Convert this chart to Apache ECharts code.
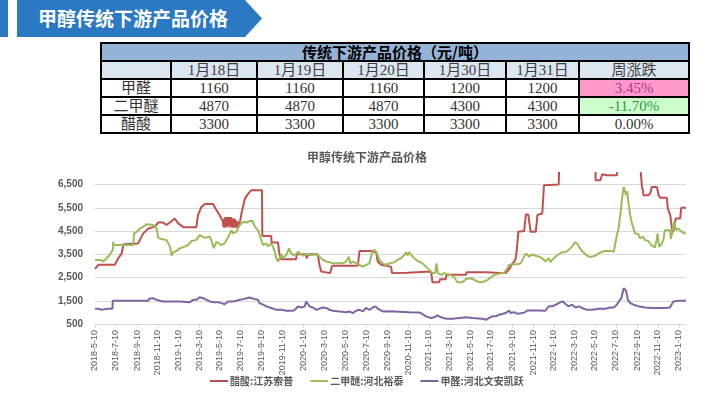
<!DOCTYPE html>
<html>
<head>
<meta charset="utf-8">
<script src="https://cdn.jsdelivr.net/npm/echarts@6/dist/echarts.min.js"></script>
<style>
    html, body { margin: 0; padding: 0; background: #fff; }
    body { width: 714px; height: 397px; position: relative; overflow: hidden; font-family: "Noto Sans CJK SC", sans-serif; }
    .tab-block { position: absolute; left: 0; top: 0; width: 8px; height: 37px; background: #2B79C3; }
    .banner {
        position: absolute; left: 17px; top: 0; width: 245px; height: 37px; background: #2B79C3;
        clip-path: polygon(0 0, 228px 0, 245px 18.5px, 228px 37px, 0 37px);
        color: #fff; font-weight: bold; font-size: 19px; line-height: 36px; box-sizing: border-box; padding-left: 21px;
    }
    table.price {
        position: absolute; left: 100px; top: 42px; width: 588px; table-layout: fixed;
        border-collapse: collapse; font-family: "Liberation Serif", "Noto Sans CJK SC", serif; font-size: 15px; color: #333;
    }
    table.price td { border: 2px solid #000; padding: 0; height: 16px; line-height: 16px; text-align: center; white-space: nowrap; }
    table.price tr.title td { background: #95B3D7; font-family: "Noto Sans CJK SC", sans-serif; font-weight: bold; font-size: 15px; color: #000; }
    table.price tr.head td { background: #DCE6F1; color: #404040; }
    td.up { background: #FF99CC; color: #B0338F; }
    td.down { background: #CCFFCC; color: #2E9A48; }
    #chart { position: absolute; left: 0; top: 140px; width: 714px; height: 257px; }
</style>
</head>
<body>
<div class="tab-block"></div>
<div class="banner">甲醇传统下游产品价格</div>

<table class="price">
    <colgroup>
        <col style="width:70px"><col style="width:86px"><col style="width:86px"><col style="width:81px">
        <col style="width:82px"><col style="width:73px"><col style="width:110px">
    </colgroup>
    <tr class="title"><td colspan="7">传统下游产品价格（元/吨）</td></tr>
    <tr class="head" id="headRow"></tr>
    <tbody id="body"></tbody>
</table>

<div id="chart"></div>

<script>
    // table
    const tableDates = ['1月18日', '1月19日', '1月20日', '1月30日', '1月31日']
    const tableProducts = ['甲醛', '二甲醚', '醋酸']
    const tablePrices = [
        [1160, 1160, 1160, 1200, 1200],
        [4870, 4870, 4870, 4300, 4300],
        [3300, 3300, 3300, 3300, 3300]
    ]
    const weekChange = ['3.45%', '-11.70%', '0.00%']

    // chart series, [date, 元/吨]
    const acetic = [
        ['2018-05-10', 2870], ['2018-05-13', 2950], ['2018-05-20', 3050], ['2018-07-07', 3050], ['2018-07-17', 3330],
        ['2018-07-27', 3540], ['2018-08-01', 3930], ['2018-08-04', 3970], ['2018-09-13', 3970], ['2018-09-18', 4110],
        ['2018-09-28', 4400], ['2018-10-13', 4610], ['2018-11-01', 4690], ['2018-11-11', 4870], ['2018-11-25', 4870],
        ['2018-12-05', 4760], ['2018-12-15', 4870], ['2018-12-29', 5040], ['2019-01-08', 4830], ['2019-01-23', 4670],
        ['2019-03-02', 4670], ['2019-03-07', 5190], ['2019-03-17', 5540], ['2019-03-27', 5670], ['2019-04-20', 5670],
        ['2019-04-30', 5400], ['2019-05-09', 5190], ['2019-05-19', 4900], ['2019-05-20', 4700], ['2019-05-21', 5000],
        ['2019-05-22', 4650], ['2019-05-23', 5050], ['2019-05-24', 4700], ['2019-05-26', 5100], ['2019-05-27', 4750],
        ['2019-05-28', 5050], ['2019-05-29', 4650], ['2019-05-30', 5100], ['2019-06-01', 4700], ['2019-06-02', 5050],
        ['2019-06-03', 4700], ['2019-06-04', 5100], ['2019-06-05', 4750], ['2019-06-07', 5100], ['2019-06-08', 4700],
        ['2019-06-09', 5050], ['2019-06-10', 4650], ['2019-06-11', 5100], ['2019-06-13', 4700], ['2019-06-14', 5050],
        ['2019-06-15', 4700], ['2019-06-16', 5000], ['2019-06-17', 4650], ['2019-06-19', 5050], ['2019-06-20', 4700],
        ['2019-06-21', 5000], ['2019-06-22', 4650], ['2019-06-23', 5000], ['2019-06-25', 4700], ['2019-06-26', 4950],
        ['2019-06-27', 4650], ['2019-06-28', 4950], ['2019-06-30', 4650], ['2019-07-01', 4900], ['2019-07-02', 4650],
        ['2019-07-04', 4620], ['2019-07-09', 5000], ['2019-07-12', 5260], ['2019-07-22', 5900],
        ['2019-08-01', 6110], ['2019-08-10', 6260], ['2019-09-10', 6260], ['2019-09-11', 4290], ['2019-10-07', 4290],
        ['2019-10-08', 4010], ['2019-10-27', 4010], ['2019-10-30', 3590], ['2019-11-05', 3290], ['2019-12-19', 3290],
        ['2019-12-20', 3500], ['2020-01-17', 3500], ['2020-01-18', 3330], ['2020-01-23', 3330], ['2020-01-24', 3500],
        ['2020-02-20', 3500], ['2020-02-25', 3040], ['2020-03-01', 2760], ['2020-03-06', 2690], ['2020-03-27', 2690],
        ['2020-04-02', 3010], ['2020-06-16', 3010], ['2020-06-21', 3640], ['2020-07-25', 3640], ['2020-07-30', 3580],
        ['2020-08-09', 3580], ['2020-08-13', 3200], ['2020-08-23', 3050], ['2020-09-21', 2970], ['2020-09-24', 2690],
        ['2020-11-08', 2710], ['2020-11-10', 2760], ['2021-01-16', 2760], ['2021-01-20', 2300], ['2021-02-09', 2300],
        ['2021-02-11', 2430], ['2021-02-28', 2430], ['2021-03-02', 2620], ['2021-04-28', 2620], ['2021-04-30', 2730],
        ['2021-06-25', 2730], ['2021-06-27', 2690], ['2021-08-22', 2690], ['2021-08-27', 2760], ['2021-09-03', 2900],
        ['2021-09-11', 3100], ['2021-09-16', 3190], ['2021-09-20', 3300], ['2021-09-23', 3610], ['2021-09-28', 4470],
        ['2021-10-15', 4500], ['2021-10-20', 5210], ['2021-10-27', 5210], ['2021-11-03', 4470], ['2021-11-18', 4470],
        ['2021-11-23', 5190], ['2021-12-07', 5260], ['2021-12-12', 6470], ['2022-01-24', 6500], ['2022-01-26', 7500],
        ['2022-05-11', 7500], ['2022-05-12', 6690], ['2022-05-26', 6690], ['2022-05-31', 6950], ['2022-06-14', 6900],
        ['2022-07-13', 6900], ['2022-07-18', 7500], ['2022-09-18', 7500], ['2022-09-24', 6470], ['2022-09-29', 6040],
        ['2022-10-14', 6040], ['2022-10-19', 6150], ['2022-10-23', 6400], ['2022-11-07', 6400], ['2022-11-12', 6040],
        ['2022-11-17', 5930], ['2022-12-06', 5930], ['2022-12-09', 5470], ['2022-12-16', 5190], ['2022-12-21', 4600],
        ['2022-12-24', 4450], ['2022-12-29', 4800], ['2023-01-01', 5040], ['2023-01-14', 5040], ['2023-01-17', 5500],
        ['2023-01-31', 5500]
    ]
    const dme = [
        ['2018-05-10', 3260], ['2018-05-15', 3190], ['2018-05-25', 3260], ['2018-05-29', 3300], ['2018-06-03', 3190],
        ['2018-06-13', 3330], ['2018-06-23', 3500], ['2018-07-01', 3690], ['2018-07-02', 4040], ['2018-07-04', 3900],
        ['2018-08-30', 3900], ['2018-09-01', 4400], ['2018-09-09', 4470], ['2018-09-18', 4610], ['2018-09-28', 4690],
        ['2018-10-08', 4790], ['2018-10-13', 4830], ['2018-10-27', 4760], ['2018-11-06', 4610], ['2018-11-11', 4210],
        ['2018-11-20', 4160], ['2018-12-05', 4110], ['2018-12-15', 3830], ['2018-12-20', 3440], ['2018-12-24', 3590],
        ['2019-01-03', 3640], ['2019-01-13', 3760], ['2019-01-27', 3830], ['2019-02-06', 3900], ['2019-02-16', 4070],
        ['2019-03-02', 4110], ['2019-03-12', 4330], ['2019-03-17', 4260], ['2019-03-27', 4210], ['2019-04-10', 4260],
        ['2019-04-15', 4110], ['2019-04-22', 3760], ['2019-04-30', 4040], ['2019-05-05', 4110], ['2019-05-14', 3900],
        ['2019-05-24', 3970], ['2019-05-29', 3900], ['2019-06-06', 4330], ['2019-06-13', 4540], ['2019-06-17', 4400],
        ['2019-06-27', 4470], ['2019-07-07', 4760], ['2019-07-12', 4830], ['2019-07-17', 4900], ['2019-07-26', 4870],
        ['2019-08-05', 4930], ['2019-08-13', 4940], ['2019-08-20', 4690], ['2019-08-29', 4540], ['2019-09-03', 4330],
        ['2019-09-08', 4110], ['2019-09-13', 3900], ['2019-09-18', 3830], ['2019-09-23', 3970], ['2019-09-28', 3830],
        ['2019-10-07', 3970], ['2019-10-12', 3830], ['2019-10-17', 3610], ['2019-10-22', 3330], ['2019-10-27', 3190],
        ['2019-11-01', 3360], ['2019-11-06', 3500], ['2019-11-10', 3330], ['2019-11-20', 3470], ['2019-11-28', 3760],
        ['2019-12-02', 3590], ['2019-12-10', 3470], ['2019-12-19', 3500], ['2019-12-24', 3610], ['2019-12-29', 3540],
        ['2020-01-08', 3440], ['2020-01-17', 3500], ['2020-02-01', 3470], ['2020-02-16', 3500], ['2020-02-25', 3400],
        ['2020-03-06', 3260], ['2020-03-16', 3190], ['2020-03-25', 3160], ['2020-04-04', 3110], ['2020-05-03', 3110],
        ['2020-05-13', 3190], ['2020-05-21', 3400], ['2020-05-25', 3110], ['2020-06-01', 3190], ['2020-06-11', 3110],
        ['2020-06-21', 3040], ['2020-07-01', 2970], ['2020-07-10', 3040], ['2020-07-20', 3110], ['2020-07-28', 3610],
        ['2020-08-04', 3690], ['2020-08-09', 3590], ['2020-08-13', 3470], ['2020-08-18', 3260], ['2020-08-28', 3110],
        ['2020-09-07', 3040], ['2020-09-16', 3110], ['2020-09-21', 3190], ['2020-10-01', 3160], ['2020-10-10', 3260],
        ['2020-10-20', 3330], ['2020-10-25', 3260], ['2020-10-30', 3470], ['2020-11-04', 3590], ['2020-11-08', 3450],
        ['2020-11-13', 3590], ['2020-11-18', 3540], ['2020-11-23', 3400], ['2020-12-03', 3260], ['2020-12-12', 3190],
        ['2020-12-22', 3110], ['2021-01-01', 2970], ['2021-01-11', 2830], ['2021-01-20', 2690], ['2021-01-28', 2690],
        ['2021-02-01', 3110], ['2021-02-05', 2690], ['2021-02-14', 2610], ['2021-02-23', 2690], ['2021-03-05', 2640],
        ['2021-03-15', 2610], ['2021-03-25', 2500], ['2021-04-03', 2300], ['2021-04-18', 2300], ['2021-04-28', 2440],
        ['2021-05-12', 2470], ['2021-05-22', 2400], ['2021-06-01', 2330], ['2021-06-10', 2300], ['2021-06-20', 2330],
        ['2021-06-30', 2400], ['2021-07-09', 2500], ['2021-07-19', 2610], ['2021-07-29', 2640], ['2021-08-08', 2690],
        ['2021-08-17', 2690], ['2021-08-27', 2900], ['2021-09-01', 3040], ['2021-09-11', 3070], ['2021-09-25', 3070],
        ['2021-10-05', 3110], ['2021-10-10', 3260], ['2021-10-20', 3540], ['2021-10-24', 3540], ['2021-10-29', 3400],
        ['2021-11-08', 3500], ['2021-11-18', 3440], ['2021-11-27', 3400], ['2021-12-07', 3330], ['2021-12-16', 3190],
        ['2021-12-21', 3110], ['2021-12-26', 3330], ['2021-12-31', 3160], ['2022-01-05', 3260], ['2022-01-15', 3400],
        ['2022-01-24', 3500], ['2022-02-03', 3590], ['2022-02-13', 3590], ['2022-02-22', 3690], ['2022-03-04', 3830],
        ['2022-03-12', 4010], ['2022-03-19', 3970], ['2022-03-24', 3830], ['2022-04-02', 3640], ['2022-04-12', 3500],
        ['2022-04-22', 3400], ['2022-05-02', 3400], ['2022-05-11', 3440], ['2022-05-21', 3540], ['2022-05-31', 3610],
        ['2022-06-09', 3640], ['2022-06-24', 3640], ['2022-07-04', 3610], ['2022-07-09', 3690], ['2022-07-13', 4330],
        ['2022-07-18', 4610], ['2022-07-23', 5190], ['2022-07-28', 5900], ['2022-08-02', 6400], ['2022-08-05', 6330],
        ['2022-08-09', 6040], ['2022-08-12', 6210], ['2022-08-16', 5690], ['2022-08-21', 5190], ['2022-08-26', 4830],
        ['2022-08-31', 4760], ['2022-09-04', 4400], ['2022-09-09', 4330], ['2022-09-14', 4360], ['2022-09-18', 4190],
        ['2022-09-28', 4260], ['2022-10-03', 4110], ['2022-10-13', 4070], ['2022-10-22', 3900], ['2022-10-27', 3930],
        ['2022-11-01', 3790], ['2022-11-06', 4110], ['2022-11-09', 4400], ['2022-11-13', 3830], ['2022-11-19', 3900],
        ['2022-11-26', 4110], ['2022-11-30', 4540], ['2022-12-15', 4540], ['2022-12-18', 4160], ['2022-12-22', 4470],
        ['2022-12-28', 4930], ['2023-01-01', 4540], ['2023-01-08', 4610], ['2023-01-13', 4690], ['2023-01-18', 4470],
        ['2023-01-23', 4540], ['2023-01-28', 4400], ['2023-01-31', 4400]
    ]
    const formaldehyde = [
        ['2018-05-10', 1160], ['2018-05-15', 1110], ['2018-05-20', 1160], ['2018-05-29', 1110], ['2018-06-08', 1140],
        ['2018-06-18', 1160], ['2018-06-30', 1160], ['2018-07-01', 1500], ['2018-10-13', 1500], ['2018-10-15', 1590],
        ['2018-10-27', 1610], ['2018-11-06', 1540], ['2018-11-16', 1500], ['2018-11-25', 1470], ['2019-01-13', 1470],
        ['2019-02-11', 1440], ['2019-02-16', 1470], ['2019-02-21', 1540], ['2019-03-02', 1540], ['2019-03-12', 1650],
        ['2019-03-22', 1610], ['2019-04-01', 1540], ['2019-04-10', 1470], ['2019-04-22', 1440], ['2019-05-05', 1440],
        ['2019-05-14', 1400], ['2019-05-24', 1350], ['2019-06-03', 1470], ['2019-06-17', 1470], ['2019-06-27', 1500],
        ['2019-07-07', 1540], ['2019-07-17', 1570], ['2019-08-05', 1640], ['2019-08-20', 1570], ['2019-08-29', 1540],
        ['2019-09-03', 1400], ['2019-09-13', 1330], ['2019-09-23', 1260], ['2019-10-07', 1190], ['2019-10-22', 1110],
        ['2019-11-06', 1110], ['2019-11-20', 1070], ['2019-12-10', 1070], ['2019-12-19', 1160], ['2019-12-24', 1260],
        ['2020-01-03', 1210], ['2020-01-13', 1260], ['2020-01-17', 1470], ['2020-01-22', 1360], ['2020-01-27', 1260],
        ['2020-02-06', 1210], ['2020-02-16', 1110], ['2020-02-25', 1160], ['2020-03-06', 1210], ['2020-03-16', 1190],
        ['2020-03-25', 1110], ['2020-04-04', 1070], ['2020-04-24', 1040], ['2020-05-13', 1010], ['2020-05-23', 1040],
        ['2020-06-01', 970], ['2020-06-11', 1070], ['2020-06-21', 1110], ['2020-07-01', 1040], ['2020-07-10', 1190],
        ['2020-07-20', 1110], ['2020-07-30', 1210], ['2020-08-07', 1260], ['2020-08-13', 1160], ['2020-08-28', 1040],
        ['2020-09-16', 1050], ['2020-11-13', 1010], ['2020-12-12', 1000], ['2020-12-22', 930], ['2021-01-01', 830],
        ['2021-01-16', 760], ['2021-01-25', 790], ['2021-02-04', 870], ['2021-02-14', 790], ['2021-02-28', 730],
        ['2021-03-20', 730], ['2021-04-08', 760], ['2021-04-28', 790], ['2021-05-17', 760], ['2021-06-15', 730],
        ['2021-06-25', 680], ['2021-07-05', 760], ['2021-07-14', 830], ['2021-07-24', 830], ['2021-08-03', 900],
        ['2021-08-12', 930], ['2021-08-22', 970], ['2021-09-01', 1080], ['2021-09-06', 970], ['2021-09-16', 1010],
        ['2021-09-25', 940], ['2021-10-05', 960], ['2021-10-15', 990], ['2021-10-24', 1080], ['2021-11-27', 1080],
        ['2021-12-16', 1070], ['2021-12-26', 1260], ['2022-01-05', 1260], ['2022-01-10', 1330], ['2022-01-19', 1360],
        ['2022-01-29', 1440], ['2022-02-05', 1470], ['2022-02-13', 1360], ['2022-02-22', 1260], ['2022-03-04', 1330],
        ['2022-03-14', 1210], ['2022-03-24', 1260], ['2022-04-02', 1190], ['2022-04-17', 1110], ['2022-05-02', 1110],
        ['2022-05-21', 1160], ['2022-06-09', 1160], ['2022-06-24', 1210], ['2022-07-04', 1210], ['2022-07-13', 1330],
        ['2022-07-20', 1500], ['2022-07-26', 1610], ['2022-08-02', 2040], ['2022-08-09', 1930], ['2022-08-14', 1540],
        ['2022-08-21', 1400], ['2022-08-31', 1330], ['2022-09-14', 1260], ['2022-10-03', 1210], ['2022-10-22', 1190],
        ['2022-11-30', 1190], ['2022-12-15', 1210], ['2022-12-25', 1470], ['2022-12-30', 1540], ['2023-01-08', 1500],
        ['2023-01-31', 1500]
    ]

    const seriesNames = ['醋酸:江苏索普', '二甲醚:河北裕泰', '甲醛:河北文安凯跃']
    const seriesColors = ['#C0504D', '#9BBB59', '#8064A2']
    const firstDay = '2018-05-10'
    const lastDay = '2023-01-31'

    // fill the table
    document.getElementById('headRow').innerHTML =
        '<td></td>' + tableDates.map(d => '<td>' + d + '</td>').join('') + '<td>周涨跌</td>'
    document.getElementById('body').innerHTML = tableProducts.map((p, i) => {
        let cls = weekChange[i].startsWith('-') ? 'down' : (weekChange[i] === '0.00%' ? '' : 'up')
        return '<tr><td>' + p + '</td>' + tablePrices[i].map(v => '<td>' + v + '</td>').join('') +
            '<td class="' + cls + '">' + weekChange[i] + '</td></tr>'
    }).join('')

    // one category per calendar day
    const days = []
    for (let t = Date.parse(firstDay + 'T00:00:00Z'); t <= Date.parse(lastDay + 'T00:00:00Z'); t += 86400000) {
        days.push(new Date(t).toISOString().slice(0, 10))
    }
    const isLabelDay = (idx, v) => v.slice(8) === '10' && (+v.slice(5, 7)) % 2 === 1

    const chart = echarts.init(document.getElementById('chart'))
    chart.setOption({
        animation: false,
        textStyle: { fontFamily: '"Noto Sans CJK SC", sans-serif' },
        title: {
            text: '甲醇传统下游产品价格',
            left: 302,
            top: 6,
            textStyle: { fontSize: 12, fontWeight: 'bold', color: '#595959' }
        },
        legend: {
            left: 205,
            top: 231,
            icon: 'rect',
            itemWidth: 18,
            itemHeight: 2,
            itemGap: 17,
            textStyle: { fontSize: 10, fontWeight: 'bold', color: '#595959', padding: [0, 0, 0, -3] },
            data: seriesNames
        },
        grid: { left: 95, right: 28, top: 33, bottom: 73 },
        xAxis: {
            type: 'category',
            data: days,
            boundaryGap: false,
            axisLine: { lineStyle: { color: '#D9D9D9' } },
            axisTick: { interval: isLabelDay, length: 4, lineStyle: { color: '#D9D9D9' } },
            axisLabel: {
                interval: isLabelDay,
                rotate: 90,
                margin: 6,
                fontSize: 9,
                color: '#595959',
                fontFamily: '"Liberation Sans", sans-serif',
                formatter: v => v.split('-').map(Number).join('-')
            }
        },
        yAxis: {
            type: 'value',
            min: 500,
            max: 7000,
            interval: 500,
            axisLine: { show: false },
            axisTick: { show: false },
            axisLabel: {
                margin: 12,
                fontSize: 10,
                fontWeight: 'bold',
                color: '#595959',
                fontFamily: '"Liberation Sans", sans-serif',
                formatter: v => (v - 500) % 1000 === 0 ? String(v).replace(/\B(?=(\d{3})+(?!\d))/g, ',') : ''
            },
            splitLine: { showMaxLine: false, lineStyle: { color: ['#D9D9D9', 'rgba(0,0,0,0)'], width: 1 } }
        },
        series: [acetic, dme, formaldehyde].map((d, i) => ({
            name: seriesNames[i],
            type: 'line',
            data: d,
            symbol: 'none',
            clip: true,
            color: seriesColors[i],
            lineStyle: { width: 2, color: seriesColors[i] }
        }))
    })
</script>
</body>
</html>
